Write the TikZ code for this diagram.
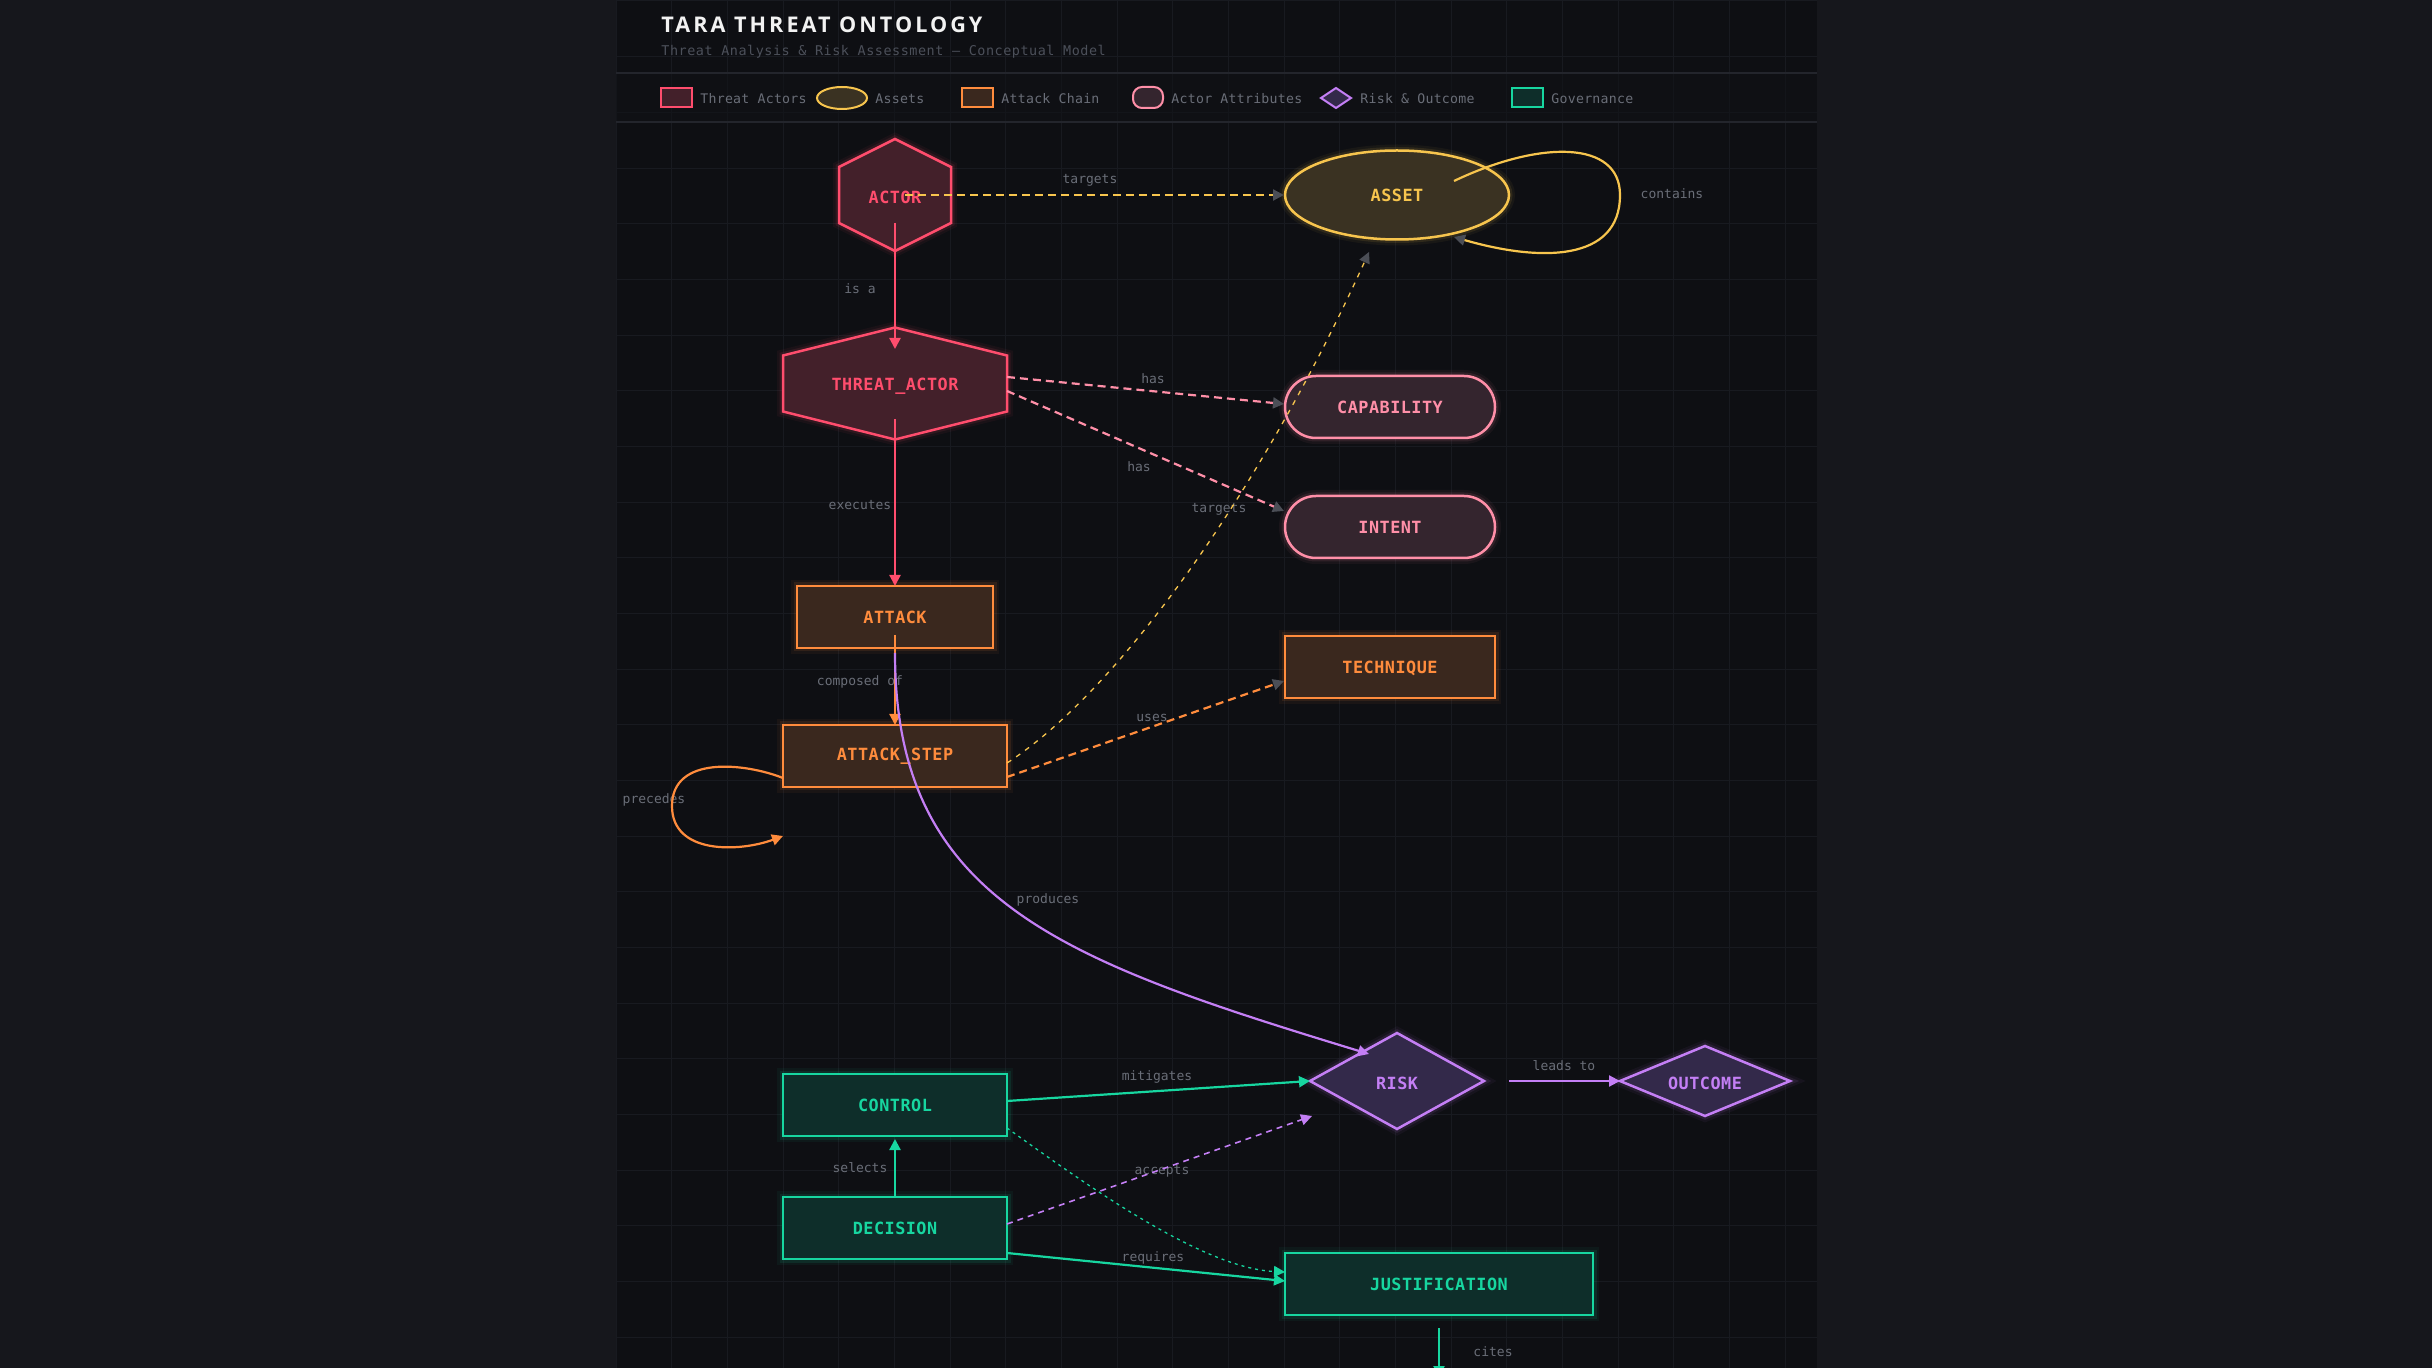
\documentclass[tikz,border=0pt]{standalone}
\usepackage{fontspec}
\setmainfont{DejaVu Sans}
\setmonofont{DejaVu Sans Mono}
\newfontfamily\titlefont{Open Sans}[LetterSpace=14]
\newfontfamily\subfont{DejaVu Sans Mono}[LetterSpace=4]
\newfontfamily\legfont{DejaVu Sans Mono}[LetterSpace=2]
\newfontfamily\nodefont{DejaVu Sans Mono}[LetterSpace=3]
\usetikzlibrary{arrows.meta,calc,shapes.geometric}

\definecolor{outerbg}{HTML}{16171C}
\definecolor{panelbg}{HTML}{0E0F13}
\definecolor{gridc}{HTML}{181A20}
\definecolor{sepc}{HTML}{23252C}
\definecolor{legbg}{HTML}{111216}
\definecolor{titlec}{HTML}{F2F2F2}
\definecolor{subc}{HTML}{4C505A}
\definecolor{lblc}{HTML}{6A6E78}
\definecolor{arrgray}{HTML}{4B4E56}
\definecolor{cRed}{HTML}{FF4D6D}
\definecolor{fRed}{HTML}{43202A}
\definecolor{cYel}{HTML}{F7C54E}
\definecolor{fYel}{HTML}{3A3222}
\definecolor{cPink}{HTML}{FF8FA8}
\definecolor{fPink}{HTML}{34252E}
\definecolor{cOra}{HTML}{FF8C3D}
\definecolor{fOra}{HTML}{3A281E}
\definecolor{cPur}{HTML}{C47FF5}
\definecolor{fPur}{HTML}{33294A}
\definecolor{cGrn}{HTML}{17D6A0}
\definecolor{fGrn}{HTML}{0E2E2A}

\tikzset{
  ntext/.style={font=\nodefont\bfseries\fontsize{8.4pt}{10pt}\selectfont, inner sep=0pt},
  lbl/.style={font=\ttfamily\fontsize{6.5pt}{8pt}\selectfont, text=lblc, inner sep=0pt},
  legtext/.style={font=\legfont\fontsize{6.6pt}{8pt}\selectfont, text=lblc, inner sep=0pt, anchor=west},
  glow/.style={preaction={draw=#1, fill=none, line width=6pt, draw opacity=0.05},
               preaction={draw=#1, fill=none, line width=3.5pt, draw opacity=0.1}},
  shp/.style 2 args={draw=#1, fill=#2, line width=1.25pt, glow=#1},
  boxnode/.style 2 args={rectangle, shp={#1}{#2}, ntext, text=#1, minimum height=31pt},
  legshape/.style 2 args={draw=#1, fill=#2, line width=1pt},
  tipc/.style={-{Triangle[length=5.5pt,width=5.5pt,color=#1]}},
  solidedge/.style={draw=#1, line width=1.1pt, tipc=#1},
  dashedge/.style 2 args={draw=#1, line width=1.1pt, dash pattern=on 4pt off 2.5pt, tipc=#2},
}

\begin{document}
\begin{tikzpicture}[x=0.5pt,y=-0.5pt]
% backgrounds
\fill[outerbg] (0,0) rectangle (2432,1368);
\useasboundingbox (0,0) rectangle (2432,1368);
\fill[panelbg] (616,0) rectangle (1817,1368);
\begin{scope}
  \clip (616,0) rectangle (1817,1368);
  \foreach \i in {0,...,21} \draw[gridc, line width=0.5pt] ({616+55.67*\i},0) -- ++(0,1368);
  \foreach \j in {0,...,24} \draw[gridc, line width=0.5pt] (616,{1+55.67*\j}) -- ++(1201,0);
\end{scope}
\fill[legbg, fill opacity=0.6] (616,73) rectangle (1817,122);
\draw[sepc, line width=0.8pt] (616,73) -- (1817,73);
\draw[sepc, line width=0.8pt] (616,122) -- (1817,122);

% header
\node[anchor=base west, inner sep=0pt, text=titlec, font=\titlefont\bfseries\fontsize{10.8pt}{12pt}\selectfont] (title) at (661,33) {TARA THREAT ONTOLOGY};
\node[anchor=base west, inner sep=0pt, text=subc, font=\subfont\fontsize{6.72pt}{8pt}\selectfont] (subtitle) at (661,56) {Threat Analysis \& Risk Assessment — Conceptual Model};

% legend
\draw[legshape={cRed}{fRed}] (661,88) rectangle (692,107);
\node[legtext] (lg1) at (700,99) {Threat Actors};
\draw[legshape={cYel}{fYel}] (842,98) ellipse [x radius=25, y radius=11];
\node[legtext] (lg2) at (875,99) {Assets};
\draw[legshape={cOra}{fOra}] (962,88) rectangle (993,107);
\node[legtext] (lg3) at (1001,99) {Attack Chain};
\draw[legshape={cPink}{fPink}, rounded corners=4.5pt] (1133,87) rectangle (1163,108);
\node[legtext] (lg4) at (1171,99) {Actor Attributes};
\draw[legshape={cPur}{fPur}] (1336,88) -- (1351,98) -- (1336,108) -- (1321,98) -- cycle;
\node[legtext] (lg5) at (1360,99) {Risk \& Outcome};
\draw[legshape={cGrn}{fGrn}] (1512,88) rectangle (1543,107);
\node[legtext] (lg6) at (1551,99) {Governance};

% polygon shapes
\path[shp={cRed}{fRed}, shift={(895,195)}] (0,-56) -- (56,-28) -- (56,28) -- (0,56) -- (-56,28) -- (-56,-28) -- cycle;
\path[shp={cRed}{fRed}, shift={(895,383.5)}] (0,-56) -- (112,-28) -- (112,28) -- (0,56) -- (-112,28) -- (-112,-28) -- cycle;
\path[shp={cPur}{fPur}, shift={(1397,1081)}] (0,-48) -- (87,0) -- (0,48) -- (-87,0) -- cycle;
\path[shp={cPur}{fPur}, shift={(1705,1081)}] (0,-35) -- (85,0) -- (0,35) -- (-85,0) -- cycle;

% nodes
\node[ntext, text=cRed] (actor) at (895,197) {ACTOR};
\node[ntext, text=cRed] (threat) at (895,386) {THREAT\_ACTOR};
\node[ellipse, shp={cYel}{fYel}, ntext, text=cYel, minimum width=112pt, minimum height=44.5pt, text depth=-2pt] (asset) at (1397,195) {ASSET};
\node[rectangle, rounded corners=15.5pt, shp={cPink}{fPink}, ntext, text=cPink, minimum width=105pt, minimum height=31pt, text depth=-2pt] (capability) at (1390,407) {CAPABILITY};
\node[rectangle, rounded corners=15.5pt, shp={cPink}{fPink}, ntext, text=cPink, minimum width=105pt, minimum height=31pt, text depth=-2pt] (intent) at (1390,527) {INTENT};
\node[boxnode={cOra}{fOra}, minimum width=105pt, text depth=-2pt] (technique) at (1390,667) {TECHNIQUE};
\node[boxnode={cOra}{fOra}, minimum width=98pt, text depth=-2pt] (attack) at (895,617) {ATTACK};
\node[boxnode={cOra}{fOra}, minimum width=112pt] (step) at (895,756) {ATTACK\_STEP};
\node[ntext, text=cPur] (risk) at (1397,1083) {RISK};
\node[ntext, text=cPur] (outcome) at (1705,1083) {OUTCOME};
\node[boxnode={cGrn}{fGrn}, minimum width=112pt, text depth=-2pt] (control) at (895,1105) {CONTROL};
\node[boxnode={cGrn}{fGrn}, minimum width=112pt, text depth=-2pt] (decision) at (895,1228) {DECISION};
\node[boxnode={cGrn}{fGrn}, minimum width=154pt, text depth=-2pt] (justification) at (1439,1284) {JUSTIFICATION};
\coordinate (citesend) at (1439,1377);

% edge labels
\node[lbl] (l1) at (860,289) {is a};
\node[lbl] (l2) at (1090,180) {targets};
\node[lbl] (l3) at (860,505) {executes};
\node[lbl] (l4) at (1153,379) {has};
\node[lbl] (l5) at (1139,467) {has};
\node[lbl] (l6) at (1219,509) {targets};
\node[lbl] (l7) at (860,682) {composed of};
\node[lbl] (l8) at (1152,718) {uses};
\node[lbl] (l9) at (654,800) {precedes};
\node[lbl] (l10) at (1048,900) {produces};
\node[lbl] (l11) at (1672,194) {contains};
\node[lbl] (l12) at (1157,1077) {mitigates};
\node[lbl] (l13) at (1162,1171) {accepts};
\node[lbl] (l14) at (860,1168) {selects};
\node[lbl] (l15) at (1153,1258) {requires};
\node[lbl] (l16) at (1564,1066) {leads to};
\node[lbl] (l17) at (1493,1352) {cites};

% edges
\draw[solidedge=cRed] ($(actor)+(0,26)$) -- ($(threat)+(0,-37)$);
\draw[dashedge={cYel}{arrgray}] ($(actor)+(10,-2)$) -- ($(asset)+(-113,0)$);
\draw[solidedge=cRed] ($(threat)+(0,33)$) -- ($(attack)+(0,-31)$);
\draw[dashedge={cPink}{arrgray}] ($(threat)+(112,-9)$) -- ($(capability)+(-106,-3)$);
\draw[dashedge={cPink}{arrgray}] ($(threat)+(112,5)$) -- ($(intent)+(-106,-16)$);
\draw[solidedge=cOra] ($(attack)+(0,18)$) -- ($(step)+(0,-31)$);
\draw[dashedge={cOra}{arrgray}] ($(step)+(112,21)$) -- ($(technique)+(-106,14)$);
\draw[draw=cYel, line width=0.65pt, dash pattern=on 2.5pt off 3pt, tipc=arrgray]
  ($(step)+(112,7)$) .. controls (1120,690) and (1262,488) .. ($(asset)+(-28,57)$);
\draw[solidedge=cOra]
  ($(step)+(-112,22)$) .. controls (745,763) and (672,755) .. (672,806)
  .. controls (672,855) and (740,852) .. ($(step)+(-112,80)$);
\draw[draw=cYel, line width=1.1pt, tipc=arrgray]
  ($(asset)+(57,-14)$) .. controls (1540,140) and (1620,140) .. (1620,195)
  .. controls (1620,262) and (1540,262) .. ($(asset)+(57,42)$);
\draw[solidedge=cPur] ($(attack)+(0,36)$) .. controls (895,900) and (1060,960) .. ($(risk)+(-28,-29)$);
\draw[solidedge=cGrn] ($(control)+(112,-4)$) -- ($(risk)+(-87,-2)$);
\draw[draw=cPur, line width=0.8pt, dash pattern=on 3pt off 2.5pt, tipc=cPur] ($(decision)+(112,-4)$) -- ($(risk)+(-85,33)$);
\draw[draw=cGrn, line width=0.65pt, dash pattern=on 1.5pt off 2pt, tipc=cGrn]
  ($(control)+(112,23)$) .. controls (1080,1180) and (1200,1268) .. ($(justification)+(-154,-12)$);
\draw[solidedge=cGrn] ($(decision)+(112,25)$) -- ($(justification)+(-154,-3)$);
\draw[solidedge=cGrn] ($(decision)+(0,-31)$) -- ($(control)+(0,34)$);
\draw[solidedge=cPur] ($(risk)+(112,-2)$) -- ($(outcome)+(-85,-2)$);
\draw[solidedge=cGrn] ($(justification)+(0,44)$) -- (citesend);
\end{tikzpicture}
\end{document}
